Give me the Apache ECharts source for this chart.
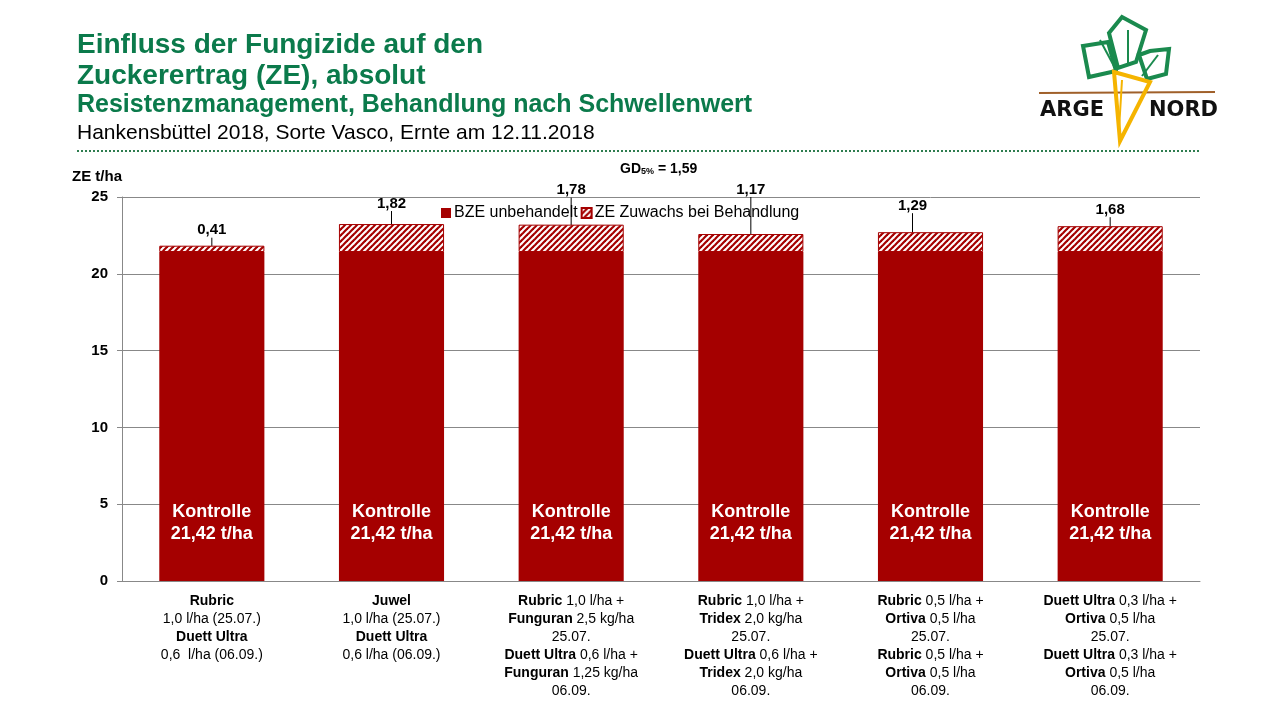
<!DOCTYPE html>
<html>
<head>
<meta charset="utf-8">
<script src="https://cdn.jsdelivr.net/npm/echarts@6/dist/echarts.min.js"></script>
<style>
html,body{margin:0;padding:0;background:#fff;}
#chart{width:1280px;height:720px;}
</style>
</head>
<body>
<div id="chart"></div>
<script>
// ---------- data ----------
const categoryLines = [
  [["Rubric",""],["","1,0 l/ha (25.07.)"],["Duett Ultra",""],["","0,6  l/ha (06.09.)"]],
  [["Juwel",""],["","1,0 l/ha (25.07.)"],["Duett Ultra",""],["","0,6 l/ha (06.09.)"]],
  [["Rubric"," 1,0 l/ha +"],["Funguran"," 2,5 kg/ha"],["","25.07."],["Duett Ultra"," 0,6 l/ha +"],["Funguran"," 1,25 kg/ha"],["","06.09."]],
  [["Rubric"," 1,0 l/ha +"],["Tridex"," 2,0 kg/ha"],["","25.07."],["Duett Ultra"," 0,6 l/ha +"],["Tridex"," 2,0 kg/ha"],["","06.09."]],
  [["Rubric"," 0,5 l/ha +"],["Ortiva"," 0,5 l/ha"],["","25.07."],["Rubric"," 0,5 l/ha +"],["Ortiva"," 0,5 l/ha"],["","06.09."]],
  [["Duett Ultra"," 0,3 l/ha +"],["Ortiva"," 0,5 l/ha"],["","25.07."],["Duett Ultra"," 0,3 l/ha +"],["Ortiva"," 0,5 l/ha"],["","06.09."]]
];
const seriesNames = ["BZE unbehandelt", "ZE Zuwachs bei Behandlung"];
const untreated = [21.42, 21.42, 21.42, 21.42, 21.42, 21.42];
const increase = [0.41, 1.82, 1.78, 1.17, 1.29, 1.68];
const yTicks = [0, 5, 10, 15, 20, 25];
const gdText = "1,59";
// label offsets (style, not data)
const labelOffsets = [[0,-4],[0,-9],[0,-23],[0,-33],[-18,-15],[0,-5]];

const categories = categoryLines.map(l => l.map(p => p.join('')).join('\n'));
const fmt = v => v.toFixed(2).replace('.', ',');

// hatch pattern
const pc2 = document.createElement('canvas');
pc2.width = 6; pc2.height = 6;
const h = pc2.getContext('2d');
h.fillStyle = '#fff'; h.fillRect(0,0,6,6);
h.strokeStyle = '#A50000'; h.lineWidth = 2.2;
[0, 6, 12].forEach(c => { h.beginPath(); h.moveTo(c - 7, 7); h.lineTo(c + 1, -1); h.stroke(); });

const chart = echarts.init(document.getElementById('chart'), null, {renderer: 'canvas'});
const FONT = 'Liberation Sans, Arial, sans-serif';

function catLabel(value, idx) {
  return categoryLines[idx].map(p => {
    let s = '';
    if (p[0]) s += '{b|' + p[0] + '}';
    if (p[1]) s += '{n|' + p[1] + '}';
    return s;
  }).join('\n');
}

const option = {
  animation: false,
  backgroundColor: '#fff',
  textStyle: {fontFamily: FONT},
  grid: {left: 122, right: 80, top: 197, bottom: 139, containLabel: false},
  legend: {
    top: 200, left: 436, itemWidth: 10, itemHeight: 10, itemGap: 3,
    icon: 'rect',
    textStyle: {fontSize: 16, color: '#000', fontFamily: FONT, padding: [0,0,0,-2]},
    data: seriesNames
  },
  xAxis: {
    type: 'category',
    data: categories,
    axisLine: {lineStyle: {color: '#888', width: 1}},
    axisTick: {show: false},
    axisLabel: {
      interval: 0, margin: 11, color: '#000', fontSize: 14, lineHeight: 18,
      formatter: catLabel,
      rich: {
        b: {fontWeight: 'bold', fontSize: 14, lineHeight: 18, color: '#000', fontFamily: FONT},
        n: {fontSize: 14, lineHeight: 18, color: '#000', fontFamily: FONT}
      }
    }
  },
  yAxis: {
    type: 'value', min: yTicks[0], max: yTicks[yTicks.length-1], interval: yTicks[1]-yTicks[0],
    axisLine: {show: true, lineStyle: {color: '#888'}},
    axisTick: {show: true, length: 5, lineStyle: {color: '#888'}},
    axisLabel: {fontWeight: 'bold', fontSize: 15, color: '#000', margin: 14},
    splitLine: {lineStyle: {color: '#888', width: 1}}
  },
  series: [
    {
      name: seriesNames[0], type: 'bar', stack: 'total', barWidth: '58.5%',
      data: untreated,
      itemStyle: {color: '#A50000'},
      label: {
        show: true, position: 'insideBottom', distance: 36,
        formatter: p => 'Kontrolle\n' + fmt(p.value) + ' t/ha',
        color: '#fff', fontWeight: 'bold', fontSize: 18, lineHeight: 22, fontFamily: FONT
      }
    },
    {
      name: seriesNames[1], type: 'bar', stack: 'total',
      data: increase,
      itemStyle: {color: {image: pc2, repeat: 'repeat'}, borderColor: '#A50000', borderWidth: 1},
      label: {
        show: true, position: 'top', distance: 4,
        formatter: p => fmt(p.value),
        color: '#000', fontWeight: 'bold', fontSize: 15, fontFamily: FONT
      },
      labelLine: {show: true, lineStyle: {color: '#000', width: 1}},
      labelLayout: function (params) {
        const o = labelOffsets[params.dataIndex] || [0,0];
        return {dx: o[0], dy: o[1]};
      }
    }
  ],
  graphic: [
    {type: 'text', left: 77, top: 31, style: {text: 'Einfluss der Fungizide auf den', fontSize: 28, fontWeight: 'bold', fill: '#0B7A4B', fontFamily: FONT}},
    {type: 'text', left: 77, top: 62, style: {text: 'Zuckerertrag (ZE), absolut', fontSize: 28, fontWeight: 'bold', fill: '#0B7A4B', fontFamily: FONT}},
    {type: 'text', left: 77, top: 93, style: {text: 'Resistenzmanagement, Behandlung nach Schwellenwert', fontSize: 25, fontWeight: 'bold', fill: '#0B7A4B', fontFamily: FONT}},
    {type: 'text', left: 77, top: 123, style: {text: 'Hankensbüttel 2018, Sorte Vasco, Ernte am 12.11.2018', fontSize: 21, fill: '#000', fontFamily: FONT}},
    {type: 'line', shape: {x1: 77, y1: 151, x2: 1200, y2: 151}, style: {stroke: '#2E7D4F', lineWidth: 2, lineDash: [2, 2]}},
    {type: 'text', left: 72, top: 169, style: {text: 'ZE t/ha', fontSize: 15, fontWeight: 'bold', fill: '#000', fontFamily: FONT}},
    {type: 'text', left: 620, top: 162, style: {
      text: '{m|GD}{s|5%}{m| = ' + gdText + '}',
      rich: {m: {fontSize: 14, fontWeight: 'bold', fill: '#000', fontFamily: FONT}, s: {fontSize: 9, fontWeight: 'bold', fill: '#000', fontFamily: FONT, padding: [6,0,0,0]}}
    }},
    // logo
    {type: 'line', shape: {x1: 1039, y1: 93, x2: 1215, y2: 92}, style: {stroke: '#A0602A', lineWidth: 2}},
    {type: 'polygon', shape: {points: [[1083,46],[1108,42],[1116,71],[1089,77]]}, style: {fill: 'none', stroke: '#1A8A4E', lineWidth: 4}},
    {type: 'polygon', shape: {points: [[1109,33],[1122,17],[1146,30],[1136,62],[1118,68]]}, style: {fill: 'none', stroke: '#1A8A4E', lineWidth: 4}},
    {type: 'polygon', shape: {points: [[1139,55],[1150,51],[1169,49],[1166,74],[1147,79]]}, style: {fill: 'none', stroke: '#1A8A4E', lineWidth: 4}},
    {type: 'polyline', shape: {points: [[1100,40],[1115,68]]}, style: {stroke: '#1A8A4E', lineWidth: 2}},
    {type: 'polyline', shape: {points: [[1128,30],[1128,66]]}, style: {stroke: '#1A8A4E', lineWidth: 2}},
    {type: 'polyline', shape: {points: [[1158,55],[1142,76]]}, style: {stroke: '#1A8A4E', lineWidth: 2}},
    {type: 'polygon', shape: {points: [[1106,78],[1130,73],[1123,90],[1115,91]]}, style: {fill: '#fff', stroke: 'none'}},
    {type: 'polygon', shape: {points: [[1114,72],[1150,82],[1120,141]]}, style: {fill: 'none', stroke: '#F5B400', lineWidth: 4}},
    {type: 'polyline', shape: {points: [[1122,80],[1119,130]]}, style: {stroke: '#F5B400', lineWidth: 2}},
    {type: 'text', left: 1040, top: 100, style: {text: 'ARGE', fontSize: 21, fontWeight: 'bold', fill: '#111', fontFamily: 'DejaVu Sans, sans-serif'}},
    {type: 'text', left: 1149, top: 100, style: {text: 'NORD', fontSize: 21, fontWeight: 'bold', fill: '#111', fontFamily: 'DejaVu Sans, sans-serif'}}
  ]
};
chart.setOption(option);
</script>
</body>
</html>
